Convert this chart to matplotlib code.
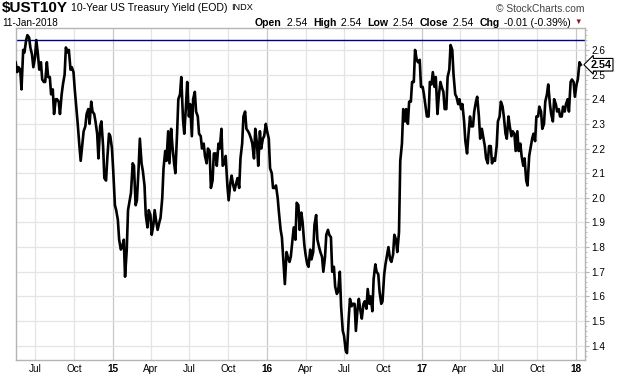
import matplotlib
matplotlib.use('Agg')
import matplotlib.pyplot as plt
import matplotlib.dates as mdates
from matplotlib.ticker import MultipleLocator, FixedLocator
import pandas as pd

plt.rcParams['font.family'] = ['Liberation Sans', 'DejaVu Sans']

# ---- data ----
# Friday closes, one per week starting 2014-05-16
week_start = '2014-05-16'
friday_yields = [
    2.55, 2.53, 2.44, 2.59, 2.66, 2.61, 2.53, 2.64, 2.52, 2.48,
    2.47, 2.49, 2.42, 2.34, 2.40, 2.34, 2.46, 2.61, 2.60, 2.53,
    2.44, 2.30, 2.15, 2.27, 2.34, 2.30, 2.35, 2.31, 2.16, 2.31,
    2.08, 2.16, 2.25, 2.11, 1.95, 1.83, 1.80, 1.68, 1.95, 2.02,
    2.13, 1.99, 2.24, 2.11, 1.93, 1.95, 1.85, 1.95, 1.87, 1.92,
    2.12, 2.15, 2.14, 2.21, 2.10, 2.40, 2.49, 2.26, 2.47, 2.38,
    2.40, 2.35, 2.26, 2.20, 2.17, 2.20, 2.04, 2.18, 2.13, 2.20,
    2.13, 2.17, 1.99, 2.09, 2.03, 2.08, 2.16, 2.33, 2.28, 2.26,
    2.22, 2.28, 2.13, 2.20, 2.25, 2.27, 2.12, 2.04, 2.05, 1.94,
    1.84, 1.65, 1.76, 1.76, 1.88, 1.98, 1.87, 1.90, 1.77, 1.72,
    1.75, 1.89, 1.83, 1.78, 1.70, 1.85, 1.85, 1.70, 1.64, 1.62,
    1.56, 1.44, 1.37, 1.59, 1.57, 1.46, 1.59, 1.51, 1.58, 1.63,
    1.60, 1.67, 1.70, 1.62, 1.58, 1.73, 1.80, 1.74, 1.85, 1.78,
    2.15, 2.36, 2.36, 2.39, 2.47, 2.60, 2.55, 2.45, 2.42, 2.33,
    2.47, 2.51, 2.49, 2.41, 2.45, 2.36, 2.49, 2.62, 2.50, 2.41,
    2.40, 2.38, 2.23, 2.25, 2.29, 2.35, 2.41, 2.24, 2.25, 2.16,
    2.21, 2.14, 2.15, 2.31, 2.39, 2.33, 2.24, 2.29, 2.27, 2.19,
    2.19, 2.17, 2.16, 2.05, 2.20, 2.26, 2.33, 2.37, 2.28, 2.39,
    2.46, 2.34, 2.40, 2.35, 2.33, 2.37, 2.38, 2.35, 2.48, 2.41,
    2.48, 2.54,
]
# Tuesday readings, the Tuesday before each Friday from the second week on
tuesday_yields = [
    2.51, 2.52, 2.60, 2.64, 2.65, 2.58, 2.57, 2.58, 2.55, 2.47,
    2.55, 2.49, 2.44, 2.40, 2.39, 2.42, 2.50, 2.59, 2.52, 2.51,
    2.36, 2.21, 2.22, 2.29, 2.36, 2.39, 2.34, 2.26, 2.29, 2.21,
    2.07, 2.26, 2.20, 1.97, 1.91, 1.79, 1.83, 1.79, 1.99, 2.14,
    1.97, 2.12, 2.14, 2.05, 1.88, 1.93, 1.89, 1.90, 1.90, 2.00,
    2.19, 2.27, 2.28, 2.14, 2.26, 2.42, 2.32, 2.37, 2.33, 2.25,
    2.43, 2.33, 2.25, 2.22, 2.14, 2.19, 2.07, 2.18, 2.22, 2.28,
    2.14, 2.05, 2.06, 2.05, 2.06, 2.04, 2.22, 2.35, 2.27, 2.24,
    2.16, 2.22, 2.27, 2.24, 2.30, 2.24, 2.10, 2.04, 2.00, 1.87,
    1.73, 1.78, 1.74, 1.83, 1.83, 1.97, 1.94, 1.81, 1.73, 1.79,
    1.78, 1.93, 1.80, 1.76, 1.76, 1.87, 1.84, 1.72, 1.61, 1.70,
    1.46, 1.38, 1.51, 1.56, 1.57, 1.55, 1.54, 1.57, 1.55, 1.57,
    1.54, 1.73, 1.69, 1.57, 1.69, 1.77, 1.75, 1.77, 1.83, 1.86,
    2.22, 2.31, 2.30, 2.39, 2.47, 2.56, 2.56, 2.45, 2.37, 2.33,
    2.46, 2.45, 2.34, 2.47, 2.43, 2.36, 2.52, 2.60, 2.42, 2.38,
    2.36, 2.31, 2.18, 2.33, 2.29, 2.39, 2.33, 2.28, 2.21, 2.14,
    2.21, 2.16, 2.21, 2.33, 2.37, 2.26, 2.33, 2.25, 2.26, 2.27,
    2.22, 2.13, 2.07, 2.17, 2.24, 2.23, 2.33, 2.35, 2.30, 2.42,
    2.38, 2.31, 2.38, 2.36, 2.33, 2.35, 2.40, 2.47, 2.47, 2.46,
    2.55,
]
ref_level = 2.64
last_close = 2.54

tick_dates = ['2014-07-01', '2014-10-01', '2015-01-01', '2015-04-01', '2015-07-01',
              '2015-10-01', '2016-01-01', '2016-04-01', '2016-07-01', '2016-10-01',
              '2017-01-01', '2017-04-01', '2017-07-01', '2017-10-01', '2018-01-01']
tick_labels = ['Jul', 'Oct', '15', 'Apr', 'Jul', 'Oct', '16', 'Apr', 'Jul', 'Oct',
               '17', 'Apr', 'Jul', 'Oct', '18']
y_ticks = [1.4, 1.5, 1.6, 1.7, 1.8, 1.9, 2.0, 2.1, 2.2, 2.3, 2.4, 2.5, 2.6]

symbol = '$UST10Y'
name = '10-Year US Treasury Yield (EOD)'
exchange = 'INDX'
date_text = '11-Jan-2018'
quote = [('Open', True), (' 2.54  ', False), ('High', True), (' 2.54  ', False),
         ('Low', True), (' 2.54  ', False), ('Close', True), (' 2.54  ', False),
         ('Chg', True), (' -0.01 (-0.39%)', False)]

fridays = pd.date_range(week_start, periods=len(friday_yields), freq='7D')
tuesdays = fridays[1:1 + len(tuesday_yields)] - pd.Timedelta(days=3)
series = pd.concat([pd.Series(friday_yields, index=fridays),
                    pd.Series(tuesday_yields, index=tuesdays)]).sort_index()
tdates = pd.to_datetime(tick_dates)

W, H = 620, 376
fig = plt.figure(figsize=(W / 100, H / 100), dpi=100)
ax = fig.add_axes([16 / W, (H - 360) / H, (585 - 16) / W, (360 - 28) / H])

ax.set_xlim(pd.Timestamp('2014-05-17'), pd.Timestamp('2018-01-22'))
ax.set_ylim(1.342, 2.689)

# grid
for d, lab in zip(tdates, tick_labels):
    is_year = lab.isdigit()
    ax.axvline(d, color='#c8c8c8' if is_year else '#e4e4e4', lw=0.9, zorder=0)
for yv in y_ticks:
    ax.axhline(yv, color='#e4e4e4', lw=0.9, zorder=0)

ax.axhline(ref_level, color='#000080', lw=1.0, zorder=2)
ax.plot(series.index, series.values, color='black', lw=1.9, zorder=3)

for s in ax.spines.values():
    s.set_color('#b4b4b4')
    s.set_linewidth(1.0)

ax.xaxis.set_major_locator(FixedLocator(mdates.date2num(tdates)))
ax.set_xticklabels(tick_labels)
for t, lab in zip(ax.get_xticklabels(), tick_labels):
    if lab.isdigit():
        t.set_fontweight('bold')
ax.tick_params(axis='x', length=0, pad=3, labelsize=7.2, colors='black')

ax.yaxis.tick_right()
ax.set_yticks(y_ticks)
ax.set_yticklabels([f'{v:.1f}' for v in y_ticks])
ax.yaxis.set_minor_locator(MultipleLocator(0.02))
ax.tick_params(axis='y', which='major', length=3, width=0.8, color='#b4b4b4',
               pad=1.5, labelsize=7.2, direction='out')
ax.tick_params(axis='y', which='minor', length=1.5, width=0.6, color='#b4b4b4', direction='out')

# last value flag
ax.annotate(f'{last_close:.2f}', xy=(1.0, last_close), xycoords=('axes fraction', 'data'),
            xytext=(4, 0), textcoords='offset points', ha='left', va='center',
            fontsize=7.8, fontweight='bold',
            bbox=dict(boxstyle='larrow,pad=0.12', fc='white', ec='black', lw=0.8),
            zorder=5, annotation_clip=False)

# header texts
r = fig.canvas.get_renderer()
t1 = fig.text(2 / W, 1 - 8 / H, symbol, fontsize=11, fontweight='bold', va='center', ha='left')
bb = t1.get_window_extent(r)
t2 = fig.text((bb.x1 + 3) / W, 1 - 8 / H, name, fontsize=7.6, va='center', ha='left')
bb2 = t2.get_window_extent(r)
fig.text((bb2.x1 + 4) / W, 1 - 8 / H, exchange, fontsize=6.6, va='center', ha='left')
fig.text(2 / W, 1 - 23 / H, date_text, fontsize=7.2, va='center', ha='left')
fig.text(585 / W, 1 - 9 / H, '\u00a9 StockCharts.com', fontsize=7.4, va='center', ha='right',
         color='#444444')

x = 255
for txt, bold in quote:
    t = fig.text(x / W, 1 - 23 / H, txt, fontsize=7.6, va='center', ha='left',
                 fontweight='bold' if bold else 'normal')
    x = t.get_window_extent(r).x1 + (2 if bold else 0)
fig.text((x + 3) / W, 1 - 22.5 / H, '\u25bc', fontsize=5.5, va='center', ha='left',
         color='#8b1a2b')

fig.savefig('out.png', dpi=100)
